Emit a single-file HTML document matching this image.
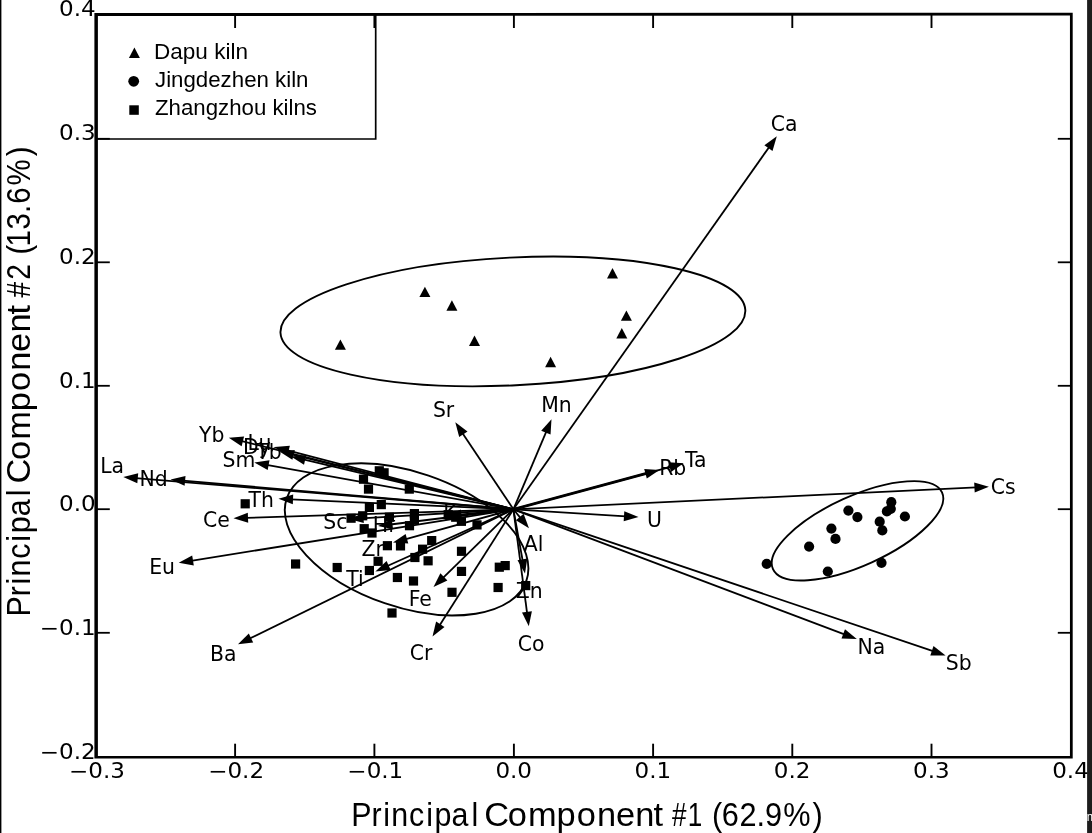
<!DOCTYPE html>
<html lang="en"><head><meta charset="utf-8"><title>PCA biplot</title><style>
html,body{margin:0;padding:0;background:#fff;}
body{width:1092px;height:833px;overflow:hidden;}
svg{display:block;}
.hs text{font-family:"DejaVu Sans",sans-serif;font-weight:400;fill:#000;}
.el{font-size:20.4px;}
.tk{font-size:20.4px;}
.my text{font-family:"Liberation Sans",sans-serif;fill:#000;}
.lg{font-size:21.4px;}
.ti{font-size:33.4px;}
</style></head><body>
<svg width="1092" height="833" viewBox="0 0 1092 833">
<rect width="1092" height="833" fill="#fff"/>
<ellipse cx="512.9" cy="321.4" rx="232.7" ry="63.9" transform="rotate(-2.8 512.9 321.4)" fill="none" stroke="#000" stroke-width="1.9"/>
<ellipse cx="857.5" cy="530.8" rx="92.8" ry="34.7" transform="rotate(-24.4 857.5 530.8)" fill="none" stroke="#000" stroke-width="1.9"/>
<ellipse cx="406.6" cy="539.4" rx="126.7" ry="67.5" transform="rotate(19.0 406.6 539.4)" fill="none" stroke="#000" stroke-width="1.9"/>
<line x1="513.4" y1="509.3" x2="769.6" y2="146.4" stroke="#000" stroke-width="1.8"/>
<polygon points="776.8,136.2 772.5,150.9 764.4,145.2" fill="#000"/>
<line x1="513.4" y1="509.3" x2="462.2" y2="432.7" stroke="#000" stroke-width="1.8"/>
<polygon points="455.3,422.3 467.5,431.6 459.2,437.1" fill="#000"/>
<line x1="513.4" y1="509.3" x2="546.6" y2="430.8" stroke="#000" stroke-width="1.8"/>
<polygon points="551.5,419.3 550.5,434.6 541.2,430.7" fill="#000"/>
<line x1="513.4" y1="509.3" x2="647.4" y2="473.2" stroke="#000" stroke-width="2.9"/>
<polygon points="659.5,470.0 646.8,478.6 644.2,468.9" fill="#000"/>
<line x1="513.4" y1="509.3" x2="671.6" y2="466.6" stroke="#000" stroke-width="1.8"/>
<polygon points="683.7,463.3 671.0,471.9 668.4,462.3" fill="#000"/>
<line x1="513.4" y1="509.3" x2="976.4" y2="487.4" stroke="#000" stroke-width="1.8"/>
<polygon points="988.9,486.8 974.7,492.5 974.2,482.5" fill="#000"/>
<line x1="513.4" y1="509.3" x2="626.0" y2="516.3" stroke="#000" stroke-width="1.8"/>
<polygon points="638.5,517.1 623.7,521.2 624.3,511.2" fill="#000"/>
<line x1="513.4" y1="509.3" x2="845.1" y2="634.6" stroke="#000" stroke-width="1.8"/>
<polygon points="856.8,639.0 841.5,638.6 845.0,629.2" fill="#000"/>
<line x1="513.4" y1="509.3" x2="933.8" y2="651.4" stroke="#000" stroke-width="1.8"/>
<polygon points="945.6,655.4 930.3,655.5 933.5,646.0" fill="#000"/>
<line x1="513.4" y1="509.3" x2="521.0" y2="518.6" stroke="#000" stroke-width="1.8"/>
<polygon points="529.0,528.2 515.9,520.2 523.6,513.8" fill="#000"/>
<line x1="513.4" y1="509.3" x2="522.8" y2="561.3" stroke="#000" stroke-width="1.8"/>
<polygon points="525.0,573.6 517.5,560.2 527.3,558.4" fill="#000"/>
<line x1="513.4" y1="509.3" x2="527.2" y2="613.9" stroke="#000" stroke-width="1.8"/>
<polygon points="528.8,626.3 522.0,612.6 531.9,611.3" fill="#000"/>
<line x1="513.4" y1="509.3" x2="439.2" y2="626.0" stroke="#000" stroke-width="1.8"/>
<polygon points="432.5,636.5 436.1,621.6 444.5,626.9" fill="#000"/>
<line x1="513.4" y1="509.3" x2="442.5" y2="578.3" stroke="#000" stroke-width="1.8"/>
<polygon points="433.5,587.0 440.4,573.3 447.4,580.5" fill="#000"/>
<line x1="513.4" y1="509.3" x2="249.2" y2="638.8" stroke="#000" stroke-width="1.8"/>
<polygon points="238.0,644.3 248.8,633.4 253.2,642.4" fill="#000"/>
<line x1="513.4" y1="509.3" x2="191.0" y2="560.8" stroke="#000" stroke-width="1.8"/>
<polygon points="178.7,562.8 192.2,555.6 193.8,565.4" fill="#000"/>
<line x1="513.4" y1="509.3" x2="246.0" y2="517.9" stroke="#000" stroke-width="1.8"/>
<polygon points="233.5,518.3 247.8,512.8 248.2,522.8" fill="#000"/>
<line x1="513.4" y1="509.3" x2="291.0" y2="499.3" stroke="#000" stroke-width="1.8"/>
<polygon points="278.5,498.7 293.2,494.4 292.8,504.3" fill="#000"/>
<line x1="513.4" y1="509.3" x2="135.8" y2="478.1" stroke="#000" stroke-width="1.8"/>
<polygon points="123.3,477.1 138.2,473.3 137.3,483.3" fill="#000"/>
<line x1="513.4" y1="509.3" x2="183.1" y2="480.7" stroke="#000" stroke-width="1.8"/>
<polygon points="170.6,479.6 185.5,475.9 184.6,485.8" fill="#000"/>
<line x1="513.4" y1="509.3" x2="266.6" y2="464.8" stroke="#000" stroke-width="1.8"/>
<polygon points="254.3,462.6 269.5,460.3 267.7,470.1" fill="#000"/>
<line x1="513.4" y1="509.3" x2="240.9" y2="440.8" stroke="#000" stroke-width="1.8"/>
<polygon points="228.8,437.8 244.1,436.5 241.6,446.2" fill="#000"/>
<line x1="513.4" y1="509.3" x2="286.7" y2="450.2" stroke="#000" stroke-width="1.8"/>
<polygon points="274.6,447.0 289.9,445.8 287.4,455.5" fill="#000"/>
<line x1="513.4" y1="509.3" x2="291.6" y2="454.5" stroke="#000" stroke-width="1.8"/>
<polygon points="279.5,451.5 294.8,450.1 292.4,459.8" fill="#000"/>
<line x1="513.4" y1="509.3" x2="303.2" y2="459.4" stroke="#000" stroke-width="1.8"/>
<polygon points="291.0,456.5 306.3,455.0 304.0,464.7" fill="#000"/>
<line x1="513.4" y1="509.3" x2="361.5" y2="518.3" stroke="#000" stroke-width="1.8"/>
<polygon points="349.0,519.0 363.2,513.2 363.8,523.1" fill="#000"/>
<line x1="513.4" y1="509.3" x2="390.4" y2="524.5" stroke="#000" stroke-width="1.8"/>
<polygon points="378.0,526.0 391.8,519.3 393.0,529.2" fill="#000"/>
<line x1="513.4" y1="509.3" x2="405.0" y2="539.3" stroke="#000" stroke-width="1.8"/>
<polygon points="393.0,542.6 405.6,533.9 408.3,543.6" fill="#000"/>
<line x1="513.4" y1="509.3" x2="386.8" y2="566.3" stroke="#000" stroke-width="1.8"/>
<polygon points="375.4,571.4 386.6,560.9 390.7,570.0" fill="#000"/>
<line x1="513.4" y1="509.3" x2="459.4" y2="514.7" stroke="#000" stroke-width="1.8"/>
<polygon points="447.0,516.0 460.9,509.6 461.9,519.5" fill="#000"/>
<rect x="240.6" y="499.2" width="9.2" height="9.2" fill="#000"/>
<rect x="291.0" y="559.4" width="9.2" height="9.2" fill="#000"/>
<rect x="332.6" y="562.9" width="9.2" height="9.2" fill="#000"/>
<rect x="358.9" y="474.6" width="9.2" height="9.2" fill="#000"/>
<rect x="374.7" y="466.2" width="9.2" height="9.2" fill="#000"/>
<rect x="379.5" y="468.2" width="9.2" height="9.2" fill="#000"/>
<rect x="363.9" y="484.5" width="9.2" height="9.2" fill="#000"/>
<rect x="404.7" y="484.5" width="9.2" height="9.2" fill="#000"/>
<rect x="364.8" y="502.8" width="9.2" height="9.2" fill="#000"/>
<rect x="376.7" y="500.0" width="9.2" height="9.2" fill="#000"/>
<rect x="346.5" y="513.6" width="9.2" height="9.2" fill="#000"/>
<rect x="358.1" y="511.2" width="9.2" height="9.2" fill="#000"/>
<rect x="384.8" y="512.6" width="9.2" height="9.2" fill="#000"/>
<rect x="409.8" y="509.0" width="9.2" height="9.2" fill="#000"/>
<rect x="409.8" y="515.4" width="9.2" height="9.2" fill="#000"/>
<rect x="404.9" y="521.1" width="9.2" height="9.2" fill="#000"/>
<rect x="359.6" y="524.1" width="9.2" height="9.2" fill="#000"/>
<rect x="367.4" y="528.4" width="9.2" height="9.2" fill="#000"/>
<rect x="443.6" y="510.1" width="9.2" height="9.2" fill="#000"/>
<rect x="451.1" y="512.6" width="9.2" height="9.2" fill="#000"/>
<rect x="456.8" y="516.7" width="9.2" height="9.2" fill="#000"/>
<rect x="472.4" y="520.3" width="9.2" height="9.2" fill="#000"/>
<rect x="382.8" y="541.1" width="9.2" height="9.2" fill="#000"/>
<rect x="395.9" y="541.3" width="9.2" height="9.2" fill="#000"/>
<rect x="427.1" y="536.0" width="9.2" height="9.2" fill="#000"/>
<rect x="418.0" y="544.6" width="9.2" height="9.2" fill="#000"/>
<rect x="410.3" y="552.9" width="9.2" height="9.2" fill="#000"/>
<rect x="423.5" y="556.2" width="9.2" height="9.2" fill="#000"/>
<rect x="456.9" y="546.7" width="9.2" height="9.2" fill="#000"/>
<rect x="373.5" y="556.7" width="9.2" height="9.2" fill="#000"/>
<rect x="364.8" y="565.9" width="9.2" height="9.2" fill="#000"/>
<rect x="392.8" y="572.9" width="9.2" height="9.2" fill="#000"/>
<rect x="408.9" y="576.4" width="9.2" height="9.2" fill="#000"/>
<rect x="456.9" y="566.8" width="9.2" height="9.2" fill="#000"/>
<rect x="447.4" y="587.7" width="9.2" height="9.2" fill="#000"/>
<rect x="494.7" y="562.6" width="9.2" height="9.2" fill="#000"/>
<rect x="500.6" y="561.0" width="9.2" height="9.2" fill="#000"/>
<rect x="493.5" y="582.9" width="9.2" height="9.2" fill="#000"/>
<rect x="521.1" y="581.0" width="9.2" height="9.2" fill="#000"/>
<rect x="387.4" y="608.4" width="9.2" height="9.2" fill="#000"/>
<polygon points="340.4,339.4 345.9,349.8 334.9,349.8" fill="#000"/>
<polygon points="424.9,286.7 430.4,297.1 419.4,297.1" fill="#000"/>
<polygon points="451.9,300.3 457.4,310.7 446.4,310.7" fill="#000"/>
<polygon points="474.5,335.5 480.0,345.9 469.0,345.9" fill="#000"/>
<polygon points="550.6,356.8 556.1,367.2 545.1,367.2" fill="#000"/>
<polygon points="612.5,268.0 618.0,278.4 607.0,278.4" fill="#000"/>
<polygon points="626.4,310.4 631.9,320.8 620.9,320.8" fill="#000"/>
<polygon points="621.8,328.1 627.3,338.5 616.3,338.5" fill="#000"/>
<circle cx="766.7" cy="563.8" r="5.1" fill="#000"/>
<circle cx="809.1" cy="546.6" r="5.1" fill="#000"/>
<circle cx="827.8" cy="571.5" r="5.1" fill="#000"/>
<circle cx="831.4" cy="528.6" r="5.1" fill="#000"/>
<circle cx="835.5" cy="538.9" r="5.1" fill="#000"/>
<circle cx="848.4" cy="510.6" r="5.1" fill="#000"/>
<circle cx="857.4" cy="517.1" r="5.1" fill="#000"/>
<circle cx="879.7" cy="521.7" r="5.1" fill="#000"/>
<circle cx="882.3" cy="530.4" r="5.1" fill="#000"/>
<circle cx="881.5" cy="562.8" r="5.1" fill="#000"/>
<circle cx="891.3" cy="502.2" r="5.1" fill="#000"/>
<circle cx="890.8" cy="508.8" r="5.1" fill="#000"/>
<circle cx="886.9" cy="511.4" r="5.1" fill="#000"/>
<circle cx="904.9" cy="516.5" r="5.1" fill="#000"/>
<polyline points="96.4,139.0 375.7,139.0 375.7,14.8" fill="none" stroke="#000" stroke-width="1.7"/>
<polygon points="134.4,47.4 139.9,58.1 128.9,58.1" fill="#000"/>
<circle cx="133.7" cy="81.3" r="5.4" fill="#000"/>
<rect x="129.3" y="105.3" width="9.5" height="9.5" fill="#000"/>
<line x1="235.1" y1="757" x2="235.1" y2="743.7" stroke="#000" stroke-width="1.9"/>
<line x1="235.1" y1="14" x2="235.1" y2="28.0" stroke="#000" stroke-width="1.9"/>
<line x1="374.4" y1="757" x2="374.4" y2="743.7" stroke="#000" stroke-width="1.9"/>
<line x1="374.4" y1="14" x2="374.4" y2="28.0" stroke="#000" stroke-width="1.9"/>
<line x1="513.9000000000001" y1="757" x2="513.9000000000001" y2="743.7" stroke="#000" stroke-width="1.9"/>
<line x1="513.9000000000001" y1="14" x2="513.9000000000001" y2="28.0" stroke="#000" stroke-width="1.9"/>
<line x1="653.1" y1="757" x2="653.1" y2="743.7" stroke="#000" stroke-width="1.9"/>
<line x1="653.1" y1="14" x2="653.1" y2="28.0" stroke="#000" stroke-width="1.9"/>
<line x1="792.3000000000001" y1="757" x2="792.3000000000001" y2="743.7" stroke="#000" stroke-width="1.9"/>
<line x1="792.3000000000001" y1="14" x2="792.3000000000001" y2="28.0" stroke="#000" stroke-width="1.9"/>
<line x1="931.5" y1="757" x2="931.5" y2="743.7" stroke="#000" stroke-width="1.9"/>
<line x1="931.5" y1="14" x2="931.5" y2="28.0" stroke="#000" stroke-width="1.9"/>
<line x1="96" y1="138.79999999999998" x2="109.8" y2="138.79999999999998" stroke="#000" stroke-width="1.8"/>
<line x1="1071" y1="138.79999999999998" x2="1057.8" y2="138.79999999999998" stroke="#000" stroke-width="1.8"/>
<line x1="96" y1="262.3" x2="109.8" y2="262.3" stroke="#000" stroke-width="1.8"/>
<line x1="1071" y1="262.3" x2="1057.8" y2="262.3" stroke="#000" stroke-width="1.8"/>
<line x1="96" y1="385.8" x2="109.8" y2="385.8" stroke="#000" stroke-width="1.8"/>
<line x1="1071" y1="385.8" x2="1057.8" y2="385.8" stroke="#000" stroke-width="1.8"/>
<line x1="96" y1="509.2" x2="109.8" y2="509.2" stroke="#000" stroke-width="1.8"/>
<line x1="1071" y1="509.2" x2="1057.8" y2="509.2" stroke="#000" stroke-width="1.8"/>
<line x1="96" y1="632.8000000000001" x2="109.8" y2="632.8000000000001" stroke="#000" stroke-width="1.8"/>
<line x1="1071" y1="632.8000000000001" x2="1057.8" y2="632.8000000000001" stroke="#000" stroke-width="1.8"/>
<path fill-rule="evenodd" fill="#000" d="M94.4,13.0 L1072.7,12.8 L1072.7,758.6 L94.4,758.6 Z M97.9,16.1 L1069.95,15.55 L1069.95,755.9 L97.9,755.9 Z"/>
<g class="hs">
<text class="el" transform="translate(770.7 131.2) scale(1.0 1)">Ca</text>
<text class="el" transform="translate(432.9 417.1) scale(1.0 1)">Sr</text>
<text class="el" transform="translate(541.2 412.1) scale(1.0 1)">Mn</text>
<text class="el" transform="translate(659.2 475.4) scale(1.0 1)">Rb</text>
<text class="el" transform="translate(684.9 466.8) scale(1.0 1)">Ta</text>
<text class="el" transform="translate(990.7 494.0) scale(1.0 1)">Cs</text>
<text class="el" transform="translate(647.0 526.6) scale(1.0 1)">U</text>
<text class="el" transform="translate(857.4 654.4) scale(1.0 1)">Na</text>
<text class="el" transform="translate(945.7 669.9) scale(1.0 1)">Sb</text>
<text class="el" transform="translate(523.8 550.5) scale(1.0 1)">Al</text>
<text class="el" transform="translate(515.7 597.9) scale(1.0 1)">Zn</text>
<text class="el" transform="translate(517.7 650.7) scale(1.0 1)">Co</text>
<text class="el" transform="translate(409.8 659.7) scale(1.0 1)">Cr</text>
<text class="el" transform="translate(408.7 606.3) scale(1.0 1)">Fe</text>
<text class="el" transform="translate(210.0 661.0) scale(1.0 1)">Ba</text>
<text class="el" transform="translate(149.2 573.8) scale(1.0 1)">Eu</text>
<text class="el" transform="translate(203.1 526.8) scale(1.0 1)">Ce</text>
<text class="el" transform="translate(248.5 507.0) scale(1.0 1)">Th</text>
<text class="el" transform="translate(100.2 472.8) scale(1.0 1)">La</text>
<text class="el" transform="translate(139.6 486.4) scale(1.0 1)">Nd</text>
<text class="el" transform="translate(222.5 467.2) scale(1.0 1)">Sm</text>
<text class="el" transform="translate(199.1 442.1) scale(1.0 1)">Yb</text>
<text class="el" transform="translate(247.5 449.8) scale(1.0 1)">Lu</text>
<text class="el" transform="translate(243.0 454.3) scale(1.0 1)">Dy</text>
<text class="el" transform="translate(256.2 458.8) scale(1.0 1)">Tb</text>
<text class="el" transform="translate(323.2 529.3) scale(1.0 1)">Sc</text>
<text class="el" transform="translate(372.7 532.4) scale(1.0 1)">Hf</text>
<text class="el" transform="translate(361.5 555.6) scale(1.0 1)">Zr</text>
<text class="el" transform="translate(346.2 586.2) scale(1.0 1)">Ti</text>
<text class="el" transform="translate(443.2 519.6) scale(1.0 1)">K</text>
<text class="tk" text-anchor="middle" transform="translate(96.9 777.5) scale(1.13 1)">−0.3</text>
<text class="tk" text-anchor="middle" transform="translate(236.1 777.5) scale(1.13 1)">−0.2</text>
<text class="tk" text-anchor="middle" transform="translate(375.3 777.5) scale(1.13 1)">−0.1</text>
<text class="tk" text-anchor="middle" transform="translate(513.7 777.5) scale(1.13 1)">0.0</text>
<text class="tk" text-anchor="middle" transform="translate(652.9 777.5) scale(1.13 1)">0.1</text>
<text class="tk" text-anchor="middle" transform="translate(792.1 777.5) scale(1.13 1)">0.2</text>
<text class="tk" text-anchor="middle" transform="translate(931.3 777.5) scale(1.13 1)">0.3</text>
<text class="tk" text-anchor="middle" transform="translate(1070.5 777.5) scale(1.13 1)">0.4</text>
<text class="tk" text-anchor="end" transform="translate(95.7 16.4) scale(1.13 1)">0.4</text>
<text class="tk" text-anchor="end" transform="translate(95.7 140.2) scale(1.13 1)">0.3</text>
<text class="tk" text-anchor="end" transform="translate(95.7 263.9) scale(1.13 1)">0.2</text>
<text class="tk" text-anchor="end" transform="translate(95.7 387.7) scale(1.13 1)">0.1</text>
<text class="tk" text-anchor="end" transform="translate(95.7 511.4) scale(1.13 1)">0.0</text>
<text class="tk" text-anchor="end" transform="translate(95.7 635.1) scale(1.13 1)">−0.1</text>
<text class="tk" text-anchor="end" transform="translate(95.7 758.9) scale(1.13 1)">−0.2</text>
</g>
<g class="my">
<text class="lg" x="154.0" y="58.7" textLength="94" lengthAdjust="spacingAndGlyphs">Dapu kiln</text>
<text class="lg" x="155.0" y="86.5" textLength="153.5" lengthAdjust="spacingAndGlyphs">Jingdezhen kiln</text>
<text class="lg" x="155.0" y="114.7" textLength="162" lengthAdjust="spacingAndGlyphs">Zhangzhou kilns</text>
<g transform="translate(354.7 825.9)"><text class="ti" x="-3.8 18.5 31.4 40.2 59.8 78.5 87.8 106.4 128.4" y="0" transform="scale(0.91 1)">Principal</text> <text class="ti" x="125.8 148.7 168.2 196.0 215.6 235.3 253.6 272.4 290.0" y="0" transform="scale(1.03 1)">Component</text> <text class="ti" x="406.9 427.1" y="0" transform="scale(0.78 1)">#1</text> <text class="ti" x="388.4 399.0 418.2 436.7 446.0 465.9 497.7" y="0" transform="scale(0.92 1)">(62.9%)</text></g>
<g transform="translate(30.0 613.1) rotate(-90)"><text class="ti" x="-3.8 18.5 31.4 40.2 59.8 78.5 87.8 106.4 128.4" y="0" transform="scale(0.91 1)">Principal</text> <text class="ti" x="125.8 148.7 168.2 196.0 215.6 235.3 253.6 272.4 290.0" y="0" transform="scale(1.03 1)">Component</text> <text class="ti" x="375.7 396.8" y="0" transform="scale(0.84 1)">#2</text> <text class="ti" x="407.4 416.7 435.9 454.7 465.1 485.9 519.1" y="0" transform="scale(0.88 1)">(13.6%)</text></g>
</g>
<rect x="0" y="0" width="1.4" height="833" fill="#000"/>
<rect x="1087.1" y="0" width="4.9" height="833" fill="#1c1c1c"/>
<text x="1086.8" y="821" font-family="Liberation Sans, sans-serif" font-size="12" fill="#fff">m</text>
</svg>
</body></html>
